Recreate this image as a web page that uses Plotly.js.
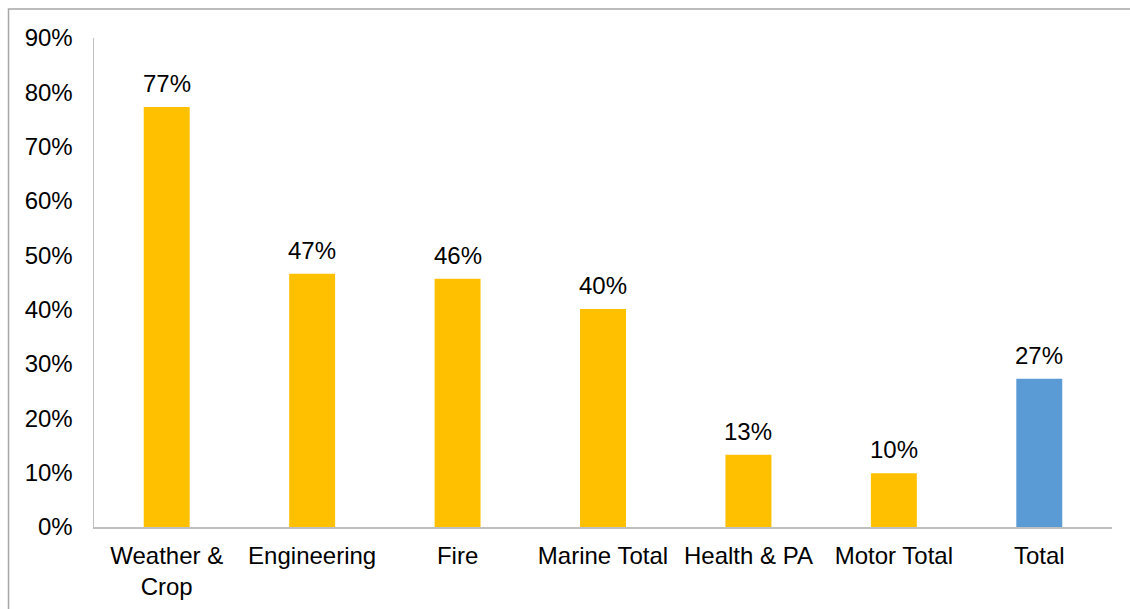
<!DOCTYPE html>
<html>
<head>
<meta charset="utf-8">
<script src="https://cdn.plot.ly/plotly-3.0.1.min.js"></script>
<style>
html,body{margin:0;padding:0;background:#fff;}
#chart{width:1130px;height:609px;}
</style>
</head>
<body>
<div id="chart"></div>
<script>
const categories = ["Weather &<br>Crop", "Engineering", "Fire", "Marine Total", "Health & PA", "Motor Total", "Total"];
const values = [0.773, 0.466, 0.457, 0.401, 0.133, 0.099, 0.273];
const barColors = ["#FFC000", "#FFC000", "#FFC000", "#FFC000", "#FFC000", "#FFC000", "#5B9BD5"];
const yTickVals = [0, 0.1, 0.2, 0.3, 0.4, 0.5, 0.6, 0.7, 0.8, 0.9];

const font = "Liberation Sans, Arial, sans-serif";
const fs = 24;

const trace = {
  type: "bar",
  x: categories,
  y: values,
  marker: {color: barColors, line: {width: 0}},
  hoverinfo: "none"
};

const annotations = categories.map((c, i) => ({
  x: c, y: values[i], xref: "x", yref: "y",
  text: Math.round(values[i] * 100) + "%",
  showarrow: false, yanchor: "bottom", yshift: 8,
  font: {family: font, size: fs, color: "#000"}
}));

const layout = {
  width: 1130, height: 609,
  margin: {l: 94, r: 18, t: 38, b: 82, pad: 0},
  paper_bgcolor: "#fff", plot_bgcolor: "#fff",
  bargap: 0.684,
  showlegend: false,
  font: {family: font, size: fs, color: "#000"},
  xaxis: {
    type: "category",
    showgrid: false, zeroline: false,
    showline: true, linecolor: "#bfbfbf", linewidth: 2,
    ticks: "", ticklabelstandoff: 6,
    tickfont: {family: font, size: fs, color: "#000"},
    fixedrange: true
  },
  yaxis: {
    range: [0, 0.9],
    tickvals: yTickVals, tickformat: ".0%",
    showgrid: false, zeroline: false,
    showline: true, linecolor: "#bfbfbf", linewidth: 1.5,
    ticks: "", ticklabelstandoff: 15,
    tickfont: {family: font, size: fs, color: "#000"},
    fixedrange: true
  },
  annotations: annotations,
  shapes: [{
    type: "rect", xref: "paper", yref: "paper",
    x0: (8.5 - 94) / 1018, x1: 1.2,
    y0: -0.3, y1: (527 - 9) / 489,
    line: {color: "#a6a6a6", width: 1.5}, fillcolor: "rgba(0,0,0,0)", layer: "below"
  }]
};

Plotly.newPlot("chart", [trace], layout, {displayModeBar: false, staticPlot: true});
</script>
</body>
</html>
